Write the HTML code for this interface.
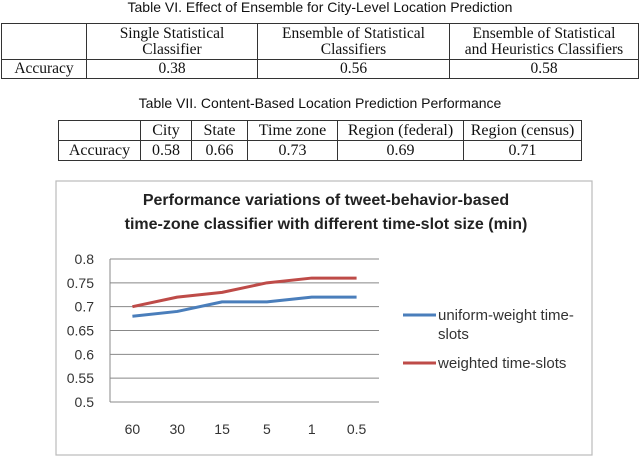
<!DOCTYPE html>
<html><head><meta charset="utf-8"><style>
body{margin:0;width:640px;height:457px;background:#fff;position:relative;overflow:hidden}
.cap{position:absolute;left:0;width:640px;text-align:center;font:14px "Liberation Sans",sans-serif;color:#111}
table{position:absolute;border-collapse:collapse;font:15.5px "Liberation Serif",serif;color:#111}
td{border:1.3px solid #333;text-align:center;padding:0;line-height:16px;white-space:nowrap}
</style></head><body>
<div class="cap" style="top:-1px">Table VI. Effect of Ensemble for City-Level Location Prediction</div>
<table style="left:1px;top:23px;width:638px">
<tr style="height:36px"><td style="width:84px"></td><td style="width:170px">Single Statistical<br>Classifier</td><td style="width:191px">Ensemble of Statistical<br>Classifiers</td><td>Ensemble of Statistical<br>and Heuristics Classifiers</td></tr>
<tr style="height:19px"><td>Accuracy</td><td>0.38</td><td>0.56</td><td>0.58</td></tr>
</table>
<div class="cap" style="top:95px">Table VII. Content-Based Location Prediction Performance</div>
<table style="left:58px;top:120px;width:524px;font-size:16px">
<tr style="height:20px"><td style="width:81px"></td><td style="width:50px">City</td><td style="width:55px">State</td><td style="width:89px">Time zone</td><td style="width:125px">Region (federal)</td><td>Region (census)</td></tr>
<tr style="height:20px"><td>Accuracy</td><td>0.58</td><td>0.66</td><td>0.73</td><td>0.69</td><td>0.71</td></tr>
</table>
<svg id="chart" width="640" height="457" style="position:absolute;left:0;top:0">
<rect x="56" y="181" width="536" height="274" fill="none" stroke="#bbb" stroke-width="1.2"/>
<text x="326" y="205" text-anchor="middle" font-family="Liberation Sans,sans-serif" font-weight="bold" font-size="16" fill="#222">Performance variations of tweet-behavior-based</text>
<text x="326" y="229" text-anchor="middle" font-family="Liberation Sans,sans-serif" font-weight="bold" font-size="16" fill="#222">time-zone classifier with different time-slot size (min)</text>
<g id="g"></g>
<line x1="403" y1="315" x2="436" y2="315" stroke="#4a7ebb" stroke-width="3"/>
<text x="438" y="320" font-family="Liberation Sans,sans-serif" font-size="15" fill="#333">uniform-weight time-</text>
<text x="438" y="339" font-family="Liberation Sans,sans-serif" font-size="15" fill="#333">slots</text>
<line x1="403" y1="363" x2="436" y2="363" stroke="#be4b48" stroke-width="3"/>
<text x="438" y="368" font-family="Liberation Sans,sans-serif" font-size="15" fill="#333">weighted time-slots</text>
</svg>
<script>
const categories=["60","30","15","5","1","0.5"];
const uniformValues=[0.68,0.69,0.71,0.71,0.72,0.72];
const weightedValues=[0.70,0.72,0.73,0.75,0.76,0.76];
const yTicks=[0.5,0.55,0.6,0.65,0.7,0.75,0.8];
const NS="http://www.w3.org/2000/svg";
const g=document.getElementById('g');
const L=110,R=379,T=259,B=402;
const y=v=>B-(v-0.5)/0.3*(B-T);
const x=i=>L+(i+0.5)*(R-L)/categories.length;
function mk(t,a){const e=document.createElementNS(NS,t);for(const k in a)e.setAttribute(k,a[k]);g.appendChild(e);return e;}
yTicks.forEach(v=>{
 const l=mk('line',{x1:L,x2:R,y1:y(v),y2:y(v),stroke:'#888','stroke-width':1});
 
 
 const t=mk('text',{x:94,y:y(v)+5,'text-anchor':'end','font-family':'Liberation Sans,sans-serif','font-size':14,fill:'#333'});
 t.textContent=String(v);
 
 
});
const ax=mk('line',{x1:L,x2:L,y1:T,y2:B,stroke:'#888','stroke-width':1});


categories.forEach((c,i)=>{
 const t=mk('text',{x:x(i),y:434,'text-anchor':'middle','font-family':'Liberation Sans,sans-serif','font-size':14,fill:'#333'});
 t.textContent=c;
 
 
});
function series(vals,col,name){
 const p=mk('polyline',{points:vals.map((v,i)=>x(i)+','+y(v)).join(' '),fill:'none',stroke:col,'stroke-width':3,'stroke-linejoin':'round'});
 
 
}
series(uniformValues,'#4a7ebb','uniform-weight-line');
series(weightedValues,'#be4b48','weighted-line');
</script>
</body></html>
